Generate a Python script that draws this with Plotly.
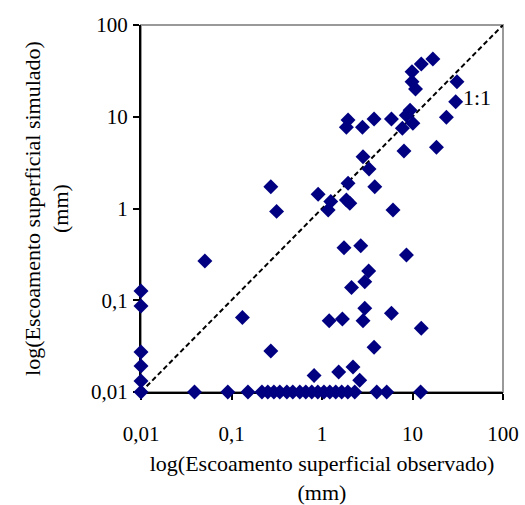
import plotly.graph_objects as go
import math

# Observed (x) and simulated (y) surface runoff, mm
obs = [
    0.01, 0.01, 0.01, 0.01, 0.01, 0.01,
    0.039, 0.091, 0.152, 0.217, 0.252, 0.294, 0.342, 0.409, 0.476, 0.569, 0.662,
    0.771, 0.899, 1.05, 1.22, 1.42, 1.65, 1.93, 2.30, 4.03, 5.19, 12.3,
    0.0508, 0.272, 0.315, 0.132, 0.272, 0.818, 1.53, 2.20, 2.61, 6.09,
    1.75, 2.68, 8.57, 3.28, 2.97, 2.12, 2.97, 2.84, 1.20, 1.68, 5.85, 12.5, 3.76,
    1.94, 1.86, 2.80, 3.76, 5.85, 8.54, 9.40, 7.73, 10.1, 8.05, 18.4, 2.84, 3.31,
    1.94, 3.83, 0.906, 1.25, 1.17, 1.86, 2.03,
    16.8, 12.5, 9.88, 9.88, 10.8, 31.0, 30.0, 23.7,
]
sim = [
    0.126, 0.0866, 0.0273, 0.0192, 0.0132, 0.01,
    0.01, 0.01, 0.01, 0.01, 0.01, 0.01, 0.01, 0.01, 0.01, 0.01, 0.01,
    0.01, 0.01, 0.01, 0.01, 0.01, 0.01, 0.01, 0.01, 0.01, 0.01, 0.01,
    0.268, 1.73, 0.93, 0.065, 0.028, 0.0151, 0.0165, 0.0187, 0.0134, 0.963,
    0.374, 0.393, 0.311, 0.208, 0.159, 0.138, 0.0817, 0.0598, 0.0598, 0.0625, 0.072, 0.0494, 0.0307,
    9.22, 7.67, 7.67, 9.45, 9.45, 10.4, 11.8, 7.48, 8.49, 4.23, 4.64, 3.67, 2.69,
    1.88, 1.73, 1.43, 1.19, 0.963, 1.24, 1.14,
    42.6, 37.6, 31.0, 24.1, 20.1, 24.1, 14.6, 9.86,
]

one_to_one = [0.01, 100]
tick_vals = [0.01, 0.1, 1, 10, 100]
tick_text = ["0,01", "0,1", "1", "10", "100"]
ratio_label = "1:1"
ratio_label_pos = (52, 16.4)

FONT = "Liberation Serif, Times New Roman, serif"
NAVY = "#000080"

fig = go.Figure()
fig.add_trace(go.Scatter(
    x=one_to_one, y=one_to_one, mode="lines",
    line=dict(color="black", width=2, dash="5px,3px"),
    hoverinfo="skip", showlegend=False, cliponaxis=False,
))
fig.add_trace(go.Scatter(
    x=obs, y=sim, mode="markers",
    marker=dict(symbol="diamond", size=11.5, color=NAVY, line=dict(width=0)),
    showlegend=False, cliponaxis=False,
))

axis_common = dict(
    type="log", range=[-2, 2], automargin=False,
    tickvals=tick_vals, ticktext=tick_text,
    ticks="outside", ticklen=6, tickwidth=1.5, tickcolor="black",
    showline=True, linecolor="black", linewidth=2,
    showgrid=False, zeroline=False, mirror=False,
    tickfont=dict(family=FONT, size=21, color="black"),
    layer="below traces",
)

fig.update_layout(
    width=525, height=505,
    margin=dict(l=141, r=22, t=25, b=113),
    paper_bgcolor="white", plot_bgcolor="white",
    font=dict(family=FONT, color="black"),
    xaxis=dict(**axis_common,
               title=dict(text="log(Escoamento superficial observado)<br>(mm)",
                          font=dict(family=FONT, size=22, color="black"),
                          standoff=15),
               ticklabelstandoff=16),
    yaxis=dict(**axis_common,
               title=dict(text="log(Escoamento superficial simulado)<br>(mm)",
                          font=dict(family=FONT, size=22, color="black"),
                          standoff=16),
               ticklabelstandoff=1),
    shapes=[dict(type="rect", xref="paper", yref="paper", x0=0, y0=0, x1=1, y1=1,
                 line=dict(color="#999999", width=2), layer="below")],
    annotations=[dict(x=math.log10(ratio_label_pos[0]), y=math.log10(ratio_label_pos[1]),
                      xref="x", yref="y", text=ratio_label, showarrow=False,
                      font=dict(family=FONT, size=22, color="black"))],
)

fig.write_html("out.html")
